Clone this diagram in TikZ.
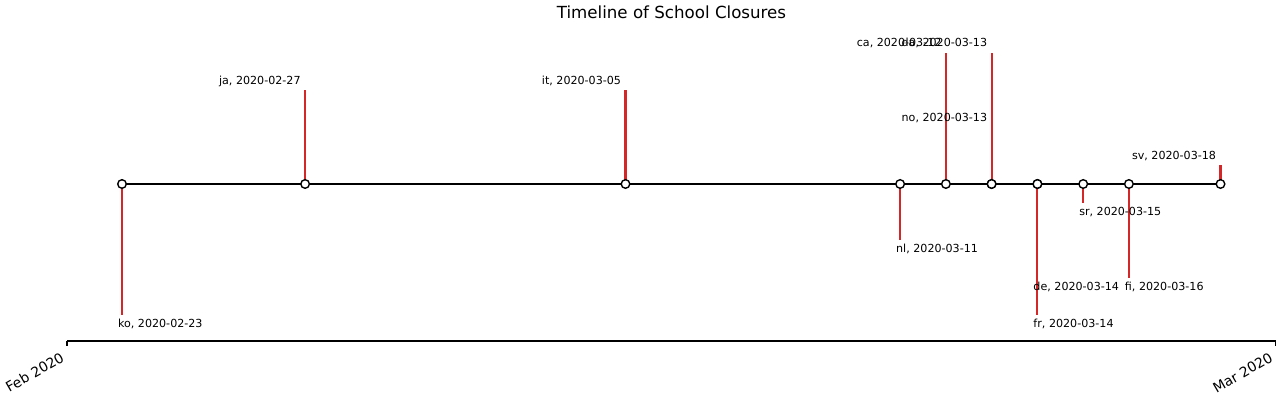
\documentclass[tikz,border=0pt]{standalone}
\usepackage{fontspec}
\setmainfont{DejaVu Sans}
\definecolor{tabred}{HTML}{D62728}
\begin{document}
\begin{tikzpicture}[x=0.72pt,y=-0.72pt,
  marker/.style={circle,draw=black,fill=white,line width=1pt,minimum size=6.2pt,inner sep=0pt},
  stemline/.style={draw=tabred,line width=1.5pt},
  baseline/.style={draw=black,line width=1.5pt},
  uplabel/.style={anchor=base east,inner sep=0pt,font=\fontsize{8}{9.6}\selectfont},
  downlabel/.style={anchor=base west,inner sep=0pt,font=\fontsize{8}{9.6}\selectfont},
  spine/.style={draw=black,line width=0.8pt},
  ticklabel/.style={anchor=base east,rotate=30,inner sep=0pt,font=\fontsize{10}{12}\selectfont},
  titlestyle/.style={anchor=base,inner sep=0pt,font=\fontsize{12}{14.4}\selectfont}]
\useasboundingbox (0,0) rectangle (1280,400);
% points on the baseline
\coordinate (p-ko) at (122,184);
\coordinate (p-ja) at (305.1,184);
\coordinate (p-it) at (625.5,184);
\coordinate (p-nl) at (900.1,184);
\coordinate (p-ca) at (945.9,184);
\coordinate (p-da) at (991.6,184);
\coordinate (p-no) at (991.6,184);
\coordinate (p-de) at (1037.4,184);
\coordinate (p-fr) at (1037.4,184);
\coordinate (p-sr) at (1083.2,184);
\coordinate (p-fi) at (1128.9,184);
\coordinate (p-sv) at (1220.5,184);
% stem ends
\coordinate (t-ko) at (122,315.25);
\coordinate (t-ja) at (305.1,90.25);
\coordinate (t-it) at (625.5,90.25);
\coordinate (t-nl) at (900.1,240.25);
\coordinate (t-ca) at (945.9,52.75);
\coordinate (t-da) at (991.6,52.75);
\coordinate (t-no) at (991.6,127.75);
\coordinate (t-de) at (1037.4,277.75);
\coordinate (t-fr) at (1037.4,315.25);
\coordinate (t-sr) at (1083.2,202.75);
\coordinate (t-fi) at (1128.9,277.75);
\coordinate (t-sv) at (1220.5,165.25);
% stems
\foreach \n in {ko,ja,it,nl,ca,da,no,de,fr,sr,fi,sv}
  \draw[stemline] (p-\n) -- (t-\n);
% baseline
\draw[baseline] (p-ko) -- (p-sv);
% markers
\foreach \n in {ko,ja,it,nl,ca,da,no,de,fr,sr,fi,sv}
  \node[marker] (m-\n) at (p-\n) {};
% labels above
\node[uplabel] (l-ja) at ([shift={(-4.2,-6)}]t-ja) {ja, 2020-02-27};
\node[uplabel] (l-it) at ([shift={(-4.2,-6)}]t-it) {it, 2020-03-05};
\node[uplabel] (l-ca) at ([shift={(-4.2,-6)}]t-ca) {ca, 2020-03-12};
\node[uplabel] (l-da) at ([shift={(-4.2,-6)}]t-da) {da, 2020-03-13};
\node[uplabel] (l-no) at ([shift={(-4.2,-6)}]t-no) {no, 2020-03-13};
\node[uplabel] (l-sv) at ([shift={(-4.2,-6)}]t-sv) {sv, 2020-03-18};
% labels below
\node[downlabel] (l-ko) at ([shift={(-4.2,12.6)}]t-ko) {ko, 2020-02-23};
\node[downlabel] (l-nl) at ([shift={(-4.2,12.6)}]t-nl) {nl, 2020-03-11};
\node[downlabel] (l-de) at ([shift={(-4.2,12.6)}]t-de) {de, 2020-03-14};
\node[downlabel] (l-fr) at ([shift={(-4.2,12.6)}]t-fr) {fr, 2020-03-14};
\node[downlabel] (l-sr) at ([shift={(-4.2,12.6)}]t-sr) {sr, 2020-03-15};
\node[downlabel] (l-fi) at ([shift={(-4.2,12.6)}]t-fi) {fi, 2020-03-16};
% bottom axis
\coordinate (ax-l) at (67,341);
\coordinate (ax-r) at (1275.5,341);
\coordinate (tk-l) at (67,345.9);
\coordinate (tk-r) at (1275.5,345.9);
\draw[spine] (ax-l) -- (ax-r);
\draw[spine] (ax-l) -- (tk-l);
\draw[spine] (ax-r) -- (tk-r);
\node[ticklabel] (lab-feb) at (65.4,360.5) {Feb 2020};
\node[ticklabel] (lab-mar) at (1273.9,360.5) {Mar 2020};
% title
\node[titlestyle] (title) at (671.5,18.5) {Timeline of School Closures};
\end{tikzpicture}
\end{document}
